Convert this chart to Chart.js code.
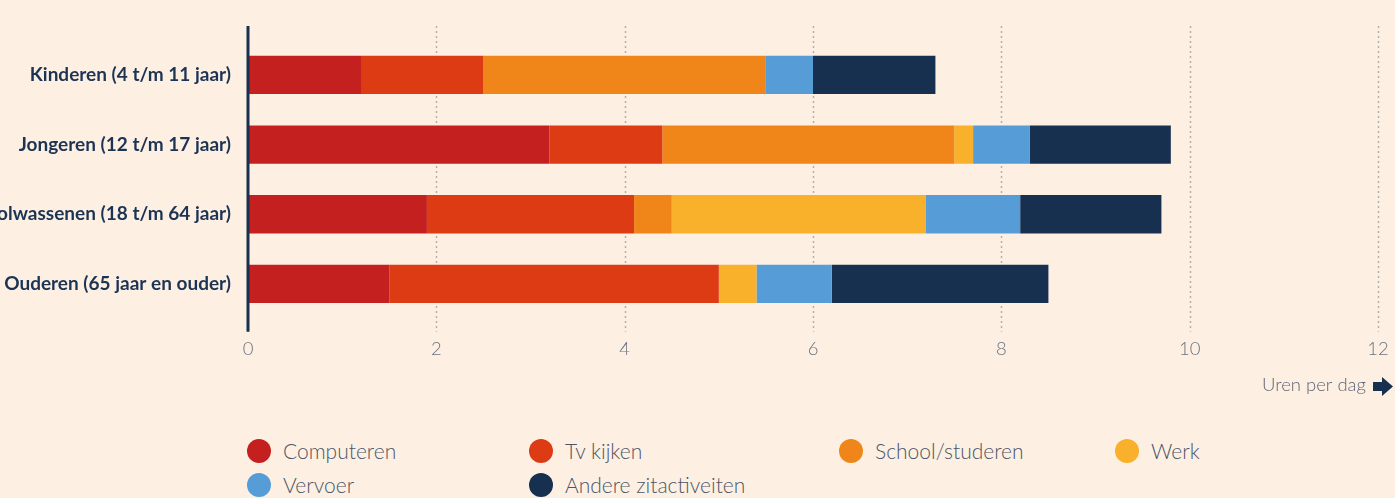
<!DOCTYPE html>
<html lang="nl">
<head>
<meta charset="utf-8">
<title>Zitgedrag per leeftijdsgroep</title>
<script src="https://cdn.jsdelivr.net/npm/chart.js@4.4.1/dist/chart.umd.min.js"></script>
<style>
    html, body {
        margin: 0;
        padding: 0;
        background: #fdf0e3;
        width: 1395px;
        height: 498px;
        overflow: hidden;
        font-family: 'Lato', 'Noto Sans', sans-serif;
    }
    #wrap {
        position: relative;
        width: 1395px;
        height: 420px;
    }
    #legend {
        display: grid;
        grid-template-columns: 282px 310px 276px 200px;
        row-gap: 9px;
        margin: 18px 0 0 247px;
    }
    .item {
        display: flex;
        align-items: center;
        height: 25px;
        font-size: 21px;
        font-weight: 300;
        color: #4b5567;
    }
    .dot {
        width: 24px;
        height: 24px;
        border-radius: 50%;
        margin-right: 12px;
        flex: none;
    }
</style>
</head>
<body>
<div id="wrap"><canvas id="sitChart" width="1395" height="420"></canvas></div>
<div id="legend"></div>

<script>
const groups = [
    'Kinderen (4 t/m 11 jaar)',
    'Jongeren (12 t/m 17 jaar)',
    'Volwassenen (18 t/m 64 jaar)',
    'Ouderen (65 jaar en ouder)'
];
const activities = ['Computeren', 'Tv kijken', 'School/studeren', 'Werk', 'Vervoer', 'Andere zitactiveiten'];
const colors = ['#c42020', '#dc3b14', '#f08619', '#f9b02b', '#569dd7', '#17304f'];

// uren per dag, per leeftijdsgroep
const computeren = [1.2, 3.2, 1.9, 1.5];
const tvKijken = [1.3, 1.2, 2.2, 3.5];
const school = [3.0, 3.1, 0.4, 0];
const werk = [0, 0.2, 2.7, 0.4];
const vervoer = [0.5, 0.6, 1.0, 0.8];
const andere = [1.3, 1.5, 1.5, 2.3];

const xTicks = [0, 2, 4, 6, 8, 10, 12];

const series = [computeren, tvKijken, school, werk, vervoer, andere];

// assen en stippellijnen iets langer dan het plotgebied
const frame = {
    id: 'frame',
    beforeDatasetsDraw(chart) {
        const ctx = chart.ctx;
        const x = chart.scales.x;
        const top = chart.chartArea.top - 14;
        const bottom = chart.chartArea.bottom + 13;
        ctx.save();
        ctx.strokeStyle = '#b3b0ac';
        ctx.lineWidth = 1.5;
        ctx.setLineDash([2, 3]);
        xTicks.forEach(function (v) {
            if (v === 0) return;
            const px = Math.round(x.getPixelForValue(v)) + 0.5;
            ctx.beginPath();
            ctx.moveTo(px, top);
            ctx.lineTo(px, bottom);
            ctx.stroke();
        });
        ctx.restore();
    },
    afterDatasetsDraw(chart) {
        const ctx = chart.ctx;
        const x = chart.scales.x;
        const x0 = x.getPixelForValue(0);
        ctx.save();
        ctx.strokeStyle = '#17304f';
        ctx.lineWidth = 3;
        ctx.beginPath();
        ctx.moveTo(x0, chart.chartArea.top - 14);
        ctx.lineTo(x0, chart.chartArea.bottom + 13);
        ctx.stroke();

        // as-titel met pijl
        ctx.fillStyle = '#5d6573';
        ctx.font = '300 18.5px Lato';
        ctx.textAlign = 'right';
        ctx.textBaseline = 'middle';
        ctx.fillText('Uren per dag', 1366, 385);

        ctx.fillStyle = '#17304f';
        ctx.beginPath();
        ctx.moveTo(1373, 382);
        ctx.lineTo(1382, 382);
        ctx.lineTo(1382, 377);
        ctx.lineTo(1393, 386.5);
        ctx.lineTo(1382, 396);
        ctx.lineTo(1382, 391);
        ctx.lineTo(1373, 391);
        ctx.closePath();
        ctx.fill();
        ctx.restore();
    }
};

new Chart(document.getElementById('sitChart'), {
    type: 'bar',
    data: {
        labels: groups,
        datasets: activities.map(function (name, i) {
            return {
                label: name,
                data: series[i],
                backgroundColor: colors[i],
                borderWidth: 0,
                barPercentage: 0.55,
                categoryPercentage: 1
            };
        })
    },
    options: {
        indexAxis: 'y',
        responsive: false,
        animation: false,
        layout: { padding: { top: 40, right: 17, bottom: 41, left: 0 } },
        plugins: {
            legend: { display: false },
            tooltip: { enabled: false }
        },
        scales: {
            x: {
                stacked: true,
                min: 0,
                max: 12,
                afterBuildTicks: function (axis) {
                    axis.ticks = xTicks.map(function (v) { return { value: v }; });
                },
                afterFit: function (axis) {
                    axis.paddingRight = 0;
                    axis.paddingLeft = 0;
                },
                grid: { display: false, drawTicks: false },
                border: { display: false },
                ticks: {
                    padding: 19,
                    color: '#6b7280',
                    font: { family: 'Lato', size: 18.5, weight: '300' }
                }
            },
            y: {
                stacked: true,
                afterFit: function (axis) { axis.width = 248; },
                grid: { display: false, drawTicks: false },
                border: { display: false },
                ticks: {
                    padding: 17,
                    color: '#1c3454',
                    font: { family: 'Lato', size: 19, weight: 'bold' }
                }
            }
        }
    },
    plugins: [frame]
});

const legend = document.getElementById('legend');
activities.forEach(function (name, i) {
    const item = document.createElement('div');
    item.className = 'item';
    const dot = document.createElement('span');
    dot.className = 'dot';
    dot.style.background = colors[i];
    item.appendChild(dot);
    item.appendChild(document.createTextNode(name));
    legend.appendChild(item);
});
</script>
</body>
</html>
